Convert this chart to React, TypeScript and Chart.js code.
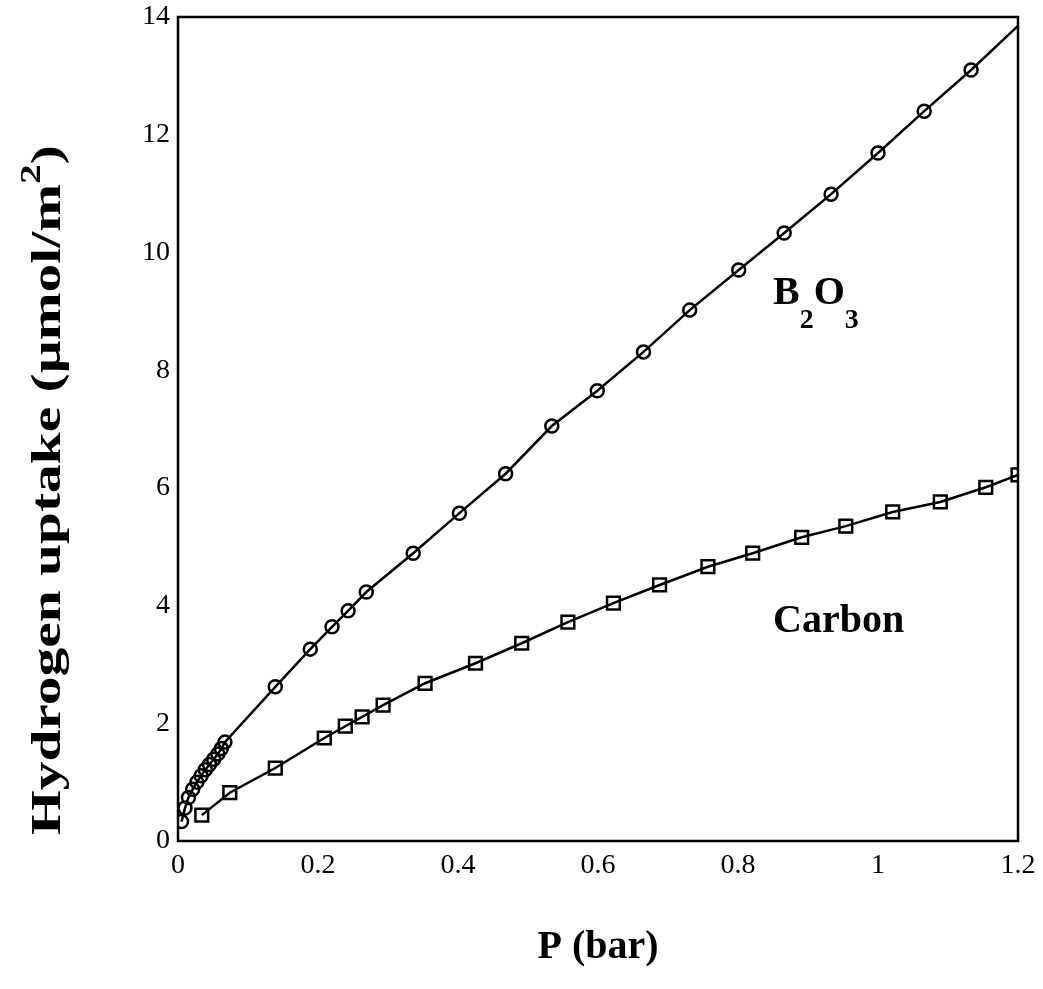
import React, { useEffect, useRef } from "react";
import { Chart, registerables } from "chart.js";

Chart.register(...registerables);

const b2o3Pressure = [0.005, 0.010, 0.015, 0.021, 0.027, 0.033, 0.039, 0.045, 0.051, 0.057, 0.062, 0.067,
  0.139, 0.189, 0.220, 0.243, 0.269, 0.336, 0.402, 0.468, 0.534, 0.599, 0.665,
  0.731, 0.801, 0.866, 0.933, 1.000, 1.066, 1.133, 1.2];
const b2o3Uptake = [0.33, 0.56, 0.74, 0.88, 1.00, 1.11, 1.21, 1.30, 1.39, 1.48, 1.57, 1.68,
  2.62, 3.26, 3.64, 3.91, 4.23, 4.89, 5.57, 6.24, 7.05, 7.65, 8.31,
  9.02, 9.70, 10.33, 10.99, 11.69, 12.40, 13.10, 13.85];
// last B2O3 entry is the end of the fitted line (no marker)
const b2o3MarkerCount = b2o3Pressure.length - 1;

const carbonPressure = [0.034, 0.074, 0.139, 0.209, 0.239, 0.263, 0.293, 0.353, 0.425, 0.491, 0.557,
  0.622, 0.688, 0.757, 0.821, 0.891, 0.954, 1.021, 1.089, 1.154, 1.2];
const carbonUptake = [0.44, 0.82, 1.24, 1.75, 1.95, 2.11, 2.31, 2.68, 3.02, 3.36, 3.72,
  4.04, 4.35, 4.66, 4.89, 5.16, 5.35, 5.59, 5.76, 6.01, 6.22];

const xTicks = [0, 0.2, 0.4, 0.6, 0.8, 1, 1.2];
const yTicks = [0, 2, 4, 6, 8, 10, 12, 14];

const SERIF = "'Liberation Serif', 'Times New Roman', serif";

const textPlugin = {
  id: "textPlugin",
  afterDraw(chart: any) {
    const ctx = chart.ctx as CanvasRenderingContext2D;
    const area = chart.chartArea;
    ctx.save();
    // frame
    ctx.strokeStyle = "#000";
    ctx.lineWidth = 2.5;
    ctx.strokeRect(area.left, area.top, area.right - area.left, area.bottom - area.top);

    ctx.fillStyle = "#000";
    ctx.textBaseline = "alphabetic";
    ctx.textAlign = "left";
    // B2O3 label
    const big = `bold 40px ${SERIF}`;
    const small = `bold 28px ${SERIF}`;
    let x = 773;
    const base = 304;
    ctx.font = big; ctx.fillText("B", x, base); x += ctx.measureText("B").width;
    ctx.font = small; ctx.fillText("2", x, base + 24); x += ctx.measureText("2").width;
    ctx.font = big; ctx.fillText("O", x, base); x += ctx.measureText("O").width;
    ctx.font = small; ctx.fillText("3", x, base + 24);
    // Carbon label
    ctx.font = big;
    ctx.fillText("Carbon", 773, 632);

    // x title
    ctx.textAlign = "center";
    ctx.textBaseline = "middle";
    ctx.font = big;
    ctx.fillText("P (bar)", (area.left + area.right) / 2, 948);

    // y title (elongated along its length, as in the reference)
    const p1 = "Hydrogen uptake (\u00b5mol/m";
    const p2 = "2";
    const p3 = ")";
    const tBig = `bold 42px ${SERIF}`;
    const tSmall = `bold 29px ${SERIF}`;
    ctx.font = tBig;
    const w1 = ctx.measureText(p1).width;
    const w3 = ctx.measureText(p3).width;
    ctx.font = tSmall;
    const w2 = ctx.measureText(p2).width;
    const total = w1 + w2 + w3;
    const targetLen = 690;
    ctx.translate(46, 490);
    ctx.rotate(-Math.PI / 2);
    ctx.scale(targetLen / total, 1);
    let sx = -total / 2;
    ctx.textAlign = "left";
    ctx.textBaseline = "alphabetic";
    const yb = 14;
    ctx.font = tBig; ctx.fillText(p1, sx, yb); sx += w1;
    ctx.font = tSmall; ctx.fillText(p2, sx, yb - 20); sx += w2;
    ctx.font = tBig; ctx.fillText(p3, sx, yb);
    ctx.restore();
  },
};

export default function App() {
  const ref = useRef<HTMLCanvasElement>(null);
  useEffect(() => {
    if (!ref.current) return;
    const chart = new Chart(ref.current, {
      type: "scatter",
      data: {
        datasets: [
          {
            label: "B2O3",
            data: b2o3Pressure.map((p, i) => ({ x: p, y: b2o3Uptake[i] })),
            showLine: true,
            borderColor: "#000",
            borderWidth: 2.5,
            pointStyle: "circle",
            pointRadius: (c: any) => (c.dataIndex < b2o3MarkerCount ? 6.5 : 0),
            pointBorderWidth: 2.5,
            pointBorderColor: "#000",
            pointBackgroundColor: "rgba(0,0,0,0)",
            tension: 0,
          },
          {
            label: "Carbon",
            data: carbonPressure.map((p, i) => ({ x: p, y: carbonUptake[i] })),
            showLine: true,
            borderColor: "#000",
            borderWidth: 2.5,
            pointStyle: "rect",
            pointRadius: 9,
            pointBorderWidth: 2.5,
            pointBorderColor: "#000",
            pointBackgroundColor: "rgba(0,0,0,0)",
            tension: 0,
          },
        ],
      },
      options: {
        animation: false,
        responsive: false,
        maintainAspectRatio: false,
        layout: { padding: { top: 17, right: 25, left: 0, bottom: 0 } },
        plugins: { legend: { display: false }, tooltip: { enabled: false } },
        scales: {
          x: {
            type: "linear",
            min: 0,
            max: 1.2,
            afterFit: (s: any) => { s.height = 148; s.paddingLeft = 0; s.paddingRight = 0; },
            afterBuildTicks: (s: any) => { s.ticks = xTicks.map((v) => ({ value: v })); },
            grid: { display: false, drawTicks: false },
            border: { display: false },
            ticks: {
              padding: 8,
              color: "#000",
              font: { family: SERIF, size: 28 },
              callback: (v: any) => String(v),
            },
          },
          y: {
            type: "linear",
            min: 0,
            max: 14,
            afterFit: (s: any) => { s.width = 178; s.paddingTop = 0; s.paddingBottom = 0; },
            afterBuildTicks: (s: any) => { s.ticks = yTicks.map((v) => ({ value: v })); },
            grid: { display: false, drawTicks: false },
            border: { display: false },
            ticks: {
              padding: 8,
              color: "#000",
              font: { family: SERIF, size: 28 },
              callback: (v: any) => String(v),
            },
          },
        },
      },
      plugins: [textPlugin],
    } as any);
    return () => chart.destroy();
  }, []);
  return (
    <div style={{ position: "fixed", left: 0, top: 0, width: 1043, height: 989, background: "#fff" }}>
      <canvas ref={ref} width={1043} height={989} style={{ width: 1043, height: 989 }} />
    </div>
  );
}
